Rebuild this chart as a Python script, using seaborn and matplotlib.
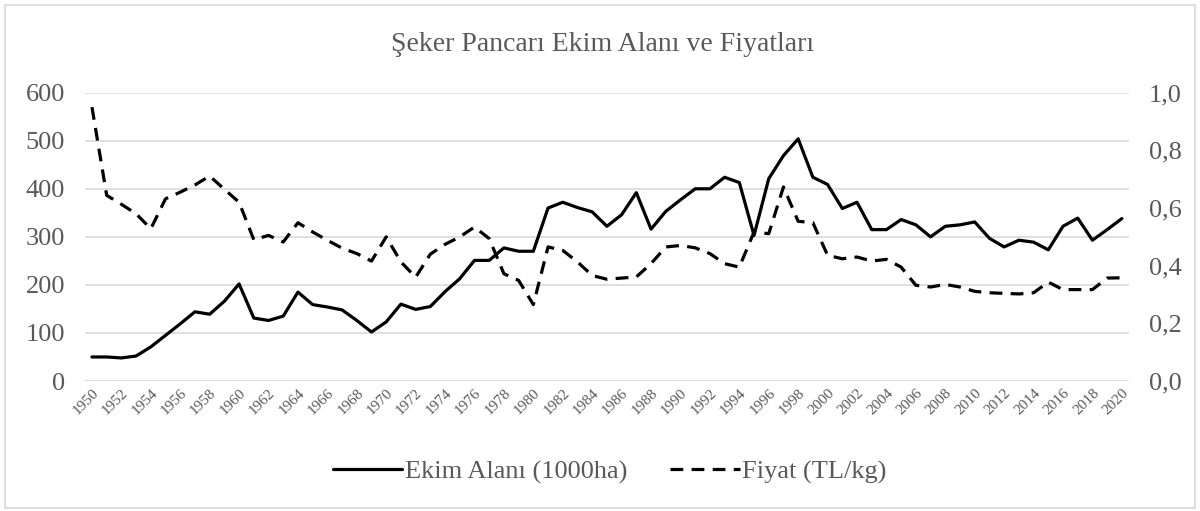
import numpy as np
import pandas as pd
import seaborn as sns
import matplotlib.pyplot as plt
from matplotlib.patches import Rectangle
from matplotlib.ticker import FuncFormatter

years = list(range(1950, 2021))

# Ekim alanı (1000 ha), sol eksen
area = [50, 50, 48, 52, 71, 95, 119, 144, 139, 166,
        202, 131, 126, 135, 185, 159, 154, 148, 126, 102,
        123, 160, 149, 155, 186, 213, 251, 251, 277, 270,
        270, 360, 372, 361, 352, 322, 346, 392, 316, 353,
        377, 400, 400, 424, 413, 303, 421, 469, 504, 424,
        409, 359, 372, 315, 315, 336, 325, 300, 322, 325,
        331, 297, 279, 293, 289, 273, 322, 339, 293, 315, 338]

# Fiyat (TL/kg), sağ eksen
price = [0.95, 0.644, 0.613, 0.58, 0.528, 0.632, 0.655, 0.68, 0.711, 0.665,
         0.62, 0.49, 0.505, 0.482, 0.549, 0.517, 0.488, 0.461, 0.442, 0.416,
         0.50, 0.413, 0.36, 0.44, 0.474, 0.50, 0.534, 0.494, 0.372, 0.349,
         0.265, 0.465, 0.453, 0.413, 0.366, 0.353, 0.357, 0.361, 0.407, 0.465,
         0.47, 0.462, 0.442, 0.407, 0.395, 0.517, 0.511, 0.673, 0.554, 0.549,
         0.436, 0.424, 0.43, 0.416, 0.422, 0.395, 0.332, 0.326, 0.335, 0.326,
         0.311, 0.306, 0.304, 0.302, 0.306, 0.343, 0.317, 0.317, 0.317, 0.357, 0.358]

df = pd.DataFrame({'Yil': years, 'Alan': area, 'Fiyat': price})

sns.set_theme(style='white')
plt.rcParams['font.family'] = ['Liberation Serif', 'DejaVu Serif']

grey = '#595959'

fig = plt.figure(figsize=(12, 5.11), dpi=100)
ax = fig.add_axes([0.0705, 0.2544, 0.8705, 0.5642])
ax2 = ax.twinx()

sns.lineplot(data=df, x='Yil', y='Alan', ax=ax, color='black', linewidth=2.3,
             label='Ekim Alanı (1000ha)', legend=False)
sns.lineplot(data=df, x='Yil', y='Fiyat', ax=ax2, color='black', linewidth=2.3,
             label='Fiyat (TL/kg)', legend=False)
ax2.lines[0].set_dashes((4, 2.6))

ax.set_xlim(1949.5, 2020.5)
ax.set_ylim(0, 600)
ax2.set_ylim(0, 1.0)
ax.set_yticks(range(0, 601, 100))
ax2.set_yticks(np.arange(0, 1.01, 0.2))
ax2.yaxis.set_major_formatter(FuncFormatter(lambda v, p: f'{v:.1f}'.replace('.', ',')))
ax.set_xticks(years[::2])
ax.set_xticklabels([str(y) for y in years[::2]], rotation=45, ha='right',
                   rotation_mode='anchor', fontsize=11, color=grey)

ax.grid(axis='y', color='#d9d9d9', linewidth=1.2)
ax.grid(axis='x', visible=False)
ax2.grid(False)
for a in (ax, ax2):
    for s in a.spines.values():
        s.set_visible(False)
    a.set_xlabel('')
    a.set_ylabel('')
ax.tick_params(axis='y', length=0, labelsize=19, labelcolor=grey, pad=14)
ax.tick_params(axis='x', length=0, pad=4)
ax2.tick_params(axis='y', length=0, labelsize=19, labelcolor=grey, pad=14)

fig.text(0.502, 0.912, 'Şeker Pancarı Ekim Alanı ve Fiyatları', ha='center', va='center',
         fontsize=20, color=grey)

h1, l1 = ax.get_legend_handles_labels()
h2, l2 = ax2.get_legend_handles_labels()
leg = fig.legend(h1 + h2, l1 + l2, loc='center', bbox_to_anchor=(0.508, 0.076), ncol=2,
                 frameon=False, fontsize=19, handlelength=2.65, handletextpad=0.1,
                 columnspacing=1.6)
for t in leg.get_texts():
    t.set_color(grey)

fig.patches.append(Rectangle((0.004, 0.006), 0.992, 0.984, transform=fig.transFigure,
                             fill=False, edgecolor='#d9d9d9', linewidth=1.2))

fig.savefig('out.png', dpi=100)
